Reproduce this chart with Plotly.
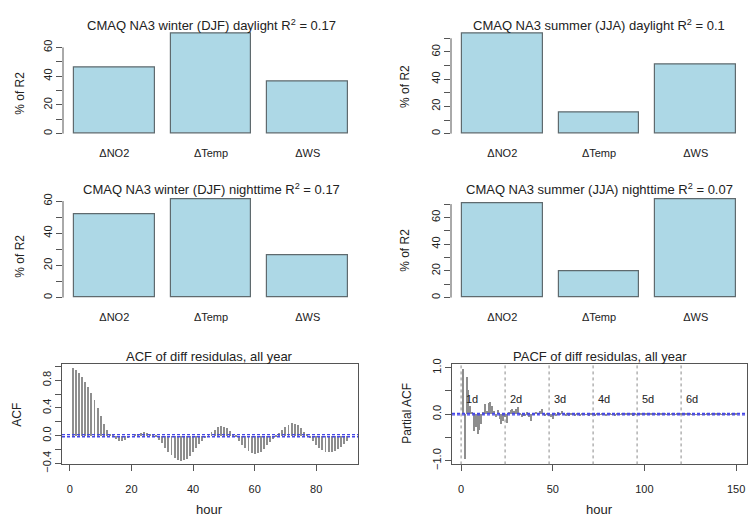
import plotly.graph_objects as go

W, H = 749, 529

# ---------------- data ----------------
categories = ["ΔNO2", "ΔTemp", "ΔWS"]
winter_day = [46.0, 69.8, 36.5]
summer_day = [73.6, 15.7, 50.7]
winter_night = [52.0, 61.2, 26.6]
summer_night = [70.5, 19.7, 73.7]
bar_titles = [
    "CMAQ NA3 winter (DJF) daylight R<sup>2</sup> = 0.17",
    "CMAQ NA3 summer (JJA) daylight R<sup>2</sup> = 0.1",
    "CMAQ NA3 winter (DJF) nighttime R<sup>2</sup> = 0.17",
    "CMAQ NA3 summer (JJA) nighttime R<sup>2</sup> = 0.07",
]
bar_tick_max = [60, 70, 60, 70]
bar_major_ticks = [0, 20, 40, 60]

acf_lags = list(range(1, 91))
acf_values = [
    0.98, 0.95, 0.91, 0.85, 0.78, 0.70, 0.61, 0.51, 0.40, 0.28,
    0.17, 0.09, 0.03, -0.02, -0.05, -0.08, -0.08, -0.06, -0.03, 0.00,
    0.02, 0.03, 0.04, 0.05, 0.04, 0.03, 0.01, -0.02, -0.06, -0.11,
    -0.17, -0.23, -0.28, -0.32, -0.35, -0.36, -0.35, -0.33, -0.29, -0.24,
    -0.18, -0.12, -0.07, -0.03, 0.01, 0.05, 0.09, 0.12, 0.14, 0.13,
    0.11, 0.07, 0.03, -0.02, -0.07, -0.13, -0.18, -0.22, -0.25, -0.26,
    -0.25, -0.23, -0.19, -0.14, -0.09, -0.05, -0.01, 0.04, 0.09, 0.13,
    0.16, 0.18, 0.17, 0.15, 0.11, 0.06, 0.02, -0.03, -0.08, -0.13,
    -0.17, -0.21, -0.23, -0.24, -0.24, -0.22, -0.19, -0.16, -0.12, -0.08,
]
acf_major_ticks = [-0.4, 0.0, 0.4, 0.8]
acf_minor_ticks = [-0.2, 0.2, 0.6, 1.0]

pacf_lags = list(range(1, 151))
pacf_values = [
    0.98, -0.97, 0.81, 0.52, 0.18, 0.05, -0.36, -0.28, -0.43, -0.33,
    -0.20, 0.04, 0.22, 0.06, 0.25, 0.26, 0.18, 0.08, -0.05, 0.10,
    -0.10, -0.20, -0.14, -0.05, -0.18, 0.05, 0.10, 0.12, 0.08, 0.12,
    0.15, 0.03, -0.05, -0.03, -0.02, 0.04, -0.05, -0.15, 0.03, 0.02,
    0.05, 0.03, 0.06, 0.12, 0.02, -0.02, 0.03, -0.02, -0.06, -0.10,
    0.02, -0.03, 0.04, 0.02, 0.07, 0.03, -0.02, 0.01, -0.04, 0.02,
    0.03, -0.02, 0.02, 0.01, -0.03, 0.02, 0.03, -0.01, 0.02, -0.02,
    0.01, 0.02, -0.03, 0.01, 0.02, -0.01, 0.03, 0.01, -0.02, 0.01,
    0.02, -0.01, 0.01, -0.02, 0.01, 0.02, -0.01, 0.01, -0.01, 0.02,
    -0.01, 0.01, 0.01, -0.02, 0.01, -0.01, 0.02, 0.01, -0.01, 0.01,
    0.01, -0.01, 0.01, 0.01, -0.01, 0.01, -0.01, 0.01, 0.01, -0.01,
    0.01, -0.01, 0.01, -0.01, 0.01, 0.01, -0.01, 0.01, -0.01, 0.01,
    -0.01, 0.01, 0.01, -0.01, 0.01, -0.01, 0.01, -0.01, 0.01, 0.01,
    -0.01, 0.01, -0.01, 0.01, 0.01, -0.01, 0.01, -0.01, 0.01, -0.01,
    0.01, -0.01, 0.01, 0.01, -0.01, 0.01, -0.01, 0.01, -0.01, 0.01,
]
pacf_major_ticks = [-1.0, 0.0, 1.0]
pacf_minor_ticks = [-0.5, 0.5]
conf_limit = 0.015
day_lines = [0, 24, 48, 72, 96, 120]
day_label_lags = [6, 30, 54, 78, 102, 126]
day_labels = ["1d", "2d", "3d", "4d", "5d", "6d"]
day_label_y = 0.33

# ---------------- styling / layout ----------------
FONT = "Liberation Sans, Arial, sans-serif"
TXT = "#222222"
AX = "#555555"
BAR_FILL = "#ADD8E6"
BAR_EDGE = "#5f6a6e"
SPIKE = "#8e8e8e"
BLUE = "#4646e6"


def xd(a, b):
    return [a / W, b / W]


def yd(top, bottom):
    return [1 - bottom / H, 1 - top / H]


# pixel boxes: (left, right, top, bottom)
boxes = [
    (63, 359, 25, 137),
    (451, 747, 25, 137),
    (63, 359, 195, 305),
    (451, 747, 195, 305),
    (62, 358, 368, 471),
    (452, 747, 368, 471),
]
title_y = [20, 20, 189, 189, 360, 360]
ytitle_pos = [(20, 91), (405, 84), (20, 258), (405, 252), (17, 420), (407, 419)]


def paper_text(text, px, py, size=12, angle=0):
    return dict(text=text, x=px / W, y=1 - py / H, xref="paper", yref="paper",
                showarrow=False, textangle=angle, font=dict(size=size, color=TXT),
                xanchor="center", yanchor="middle")


def minor(vals):
    return dict(tickvals=vals, ticks="outside", ticklen=6, tickcolor=AX, tickwidth=1)


fig = go.Figure()
layout = dict(
    width=W, height=H, margin=dict(l=0, r=0, t=0, b=0, pad=0),
    paper_bgcolor="white", plot_bgcolor="white",
    showlegend=False, font=dict(family=FONT, size=11, color=TXT),
)
annotations = []
shapes = []

bar_series = [winter_day, summer_day, winter_night, summer_night]
for i, vals in enumerate(bar_series):
    n = i + 1
    xa = "x" if n == 1 else f"x{n}"
    ya = "y" if n == 1 else f"y{n}"
    fig.add_trace(go.Bar(
        x=categories, y=vals, width=0.833, xaxis=xa, yaxis=ya,
        marker=dict(color=BAR_FILL, line=dict(color=BAR_EDGE, width=1.2)),
    ))
    L, R, T, B = boxes[i]
    M = max(vals)
    all_ticks = list(range(0, bar_tick_max[i] + 1, 10))
    layout[f"xaxis{'' if n == 1 else n}"] = dict(
        domain=xd(L, R), anchor=ya, type="category",
        range=[-0.53, 2.53], showline=False, showgrid=False, zeroline=False,
        ticks="", ticklabelstandoff=6, tickfont=dict(size=11, color=TXT),
    )
    layout[f"yaxis{'' if n == 1 else n}"] = dict(
        domain=yd(T, B), anchor=xa, range=[-0.05 * M, 1.04 * M],
        showline=False, showgrid=False, zeroline=False,
        ticks="outside", ticklen=6, tickcolor=AX, tickwidth=1,
        tickvals=bar_major_ticks,
        minor=minor([v for v in all_ticks if v not in bar_major_ticks]),
        tickangle=-90, tickfont=dict(size=11, color=TXT),
    )
    shapes.append(dict(
        type="line", xref=f"{xa} domain", yref=ya, x0=0, x1=0,
        y0=0, y1=bar_tick_max[i], line=dict(color=AX, width=1),
    ))
    annotations.append(paper_text(bar_titles[i], (L + R) / 2, title_y[i], size=13))
    annotations.append(paper_text("% of R2", ytitle_pos[i][0], ytitle_pos[i][1], angle=-90))

# ---------- ACF panel ----------
fig.add_trace(go.Bar(
    x=acf_lags, y=acf_values, width=0.3, xaxis="x5", yaxis="y5",
    marker=dict(color=SPIKE, line=dict(width=0)),
))
lo, hi = min(acf_values + [-conf_limit]), max(acf_values + [conf_limit])
pad = 0.04 * (hi - lo)
xpad = 0.04 * (max(acf_lags) - min(acf_lags))
L, R, T, B = boxes[4]
layout["xaxis5"] = dict(
    domain=xd(L, R), anchor="y5", range=[min(acf_lags) - xpad, max(acf_lags) + xpad],
    showline=True, mirror=True, linecolor=AX, linewidth=1, showgrid=False, zeroline=False,
    ticks="outside", ticklen=6, tickcolor=AX, tickvals=[0, 20, 40, 60, 80],
    ticklabelstandoff=8, tickfont=dict(size=11, color=TXT),
)
layout["yaxis5"] = dict(
    domain=yd(T, B), anchor="x5", range=[lo - pad, hi + pad],
    showline=True, mirror=True, linecolor=AX, linewidth=1, showgrid=False, zeroline=False,
    ticks="outside", ticklen=6, tickcolor=AX, tickvals=acf_major_ticks,
    tickformat=".1f", minor=minor(acf_minor_ticks),
    tickangle=-90, tickfont=dict(size=11, color=TXT),
)
for s in (1, -1):
    shapes.append(dict(type="line", xref="x5 domain", yref="y5", x0=0, x1=1,
                       y0=s * conf_limit, y1=s * conf_limit,
                       line=dict(color=BLUE, width=1.3, dash="3px,2px")))
annotations.append(paper_text("ACF of diff residulas, all year", (L + R) / 2, title_y[4], size=13))
annotations.append(paper_text("ACF", ytitle_pos[4][0], ytitle_pos[4][1], angle=-90))
annotations.append(paper_text("hour", (L + R) / 2, 517, size=13))

# ---------- PACF panel ----------
fig.add_trace(go.Bar(
    x=pacf_lags, y=pacf_values, width=0.5, xaxis="x6", yaxis="y6",
    marker=dict(color=SPIKE, line=dict(width=0)),
))
L, R, T, B = boxes[5]
xpad6 = 0.04 * (max(pacf_lags) - min(pacf_lags))
layout["xaxis6"] = dict(
    domain=xd(L, R), anchor="y6", range=[min(pacf_lags) - xpad6, max(pacf_lags) + xpad6],
    showline=True, mirror=True, linecolor=AX, linewidth=1, showgrid=False, zeroline=False,
    ticks="outside", ticklen=6, tickcolor=AX, tickvals=[0, 50, 100, 150],
    ticklabelstandoff=8, tickfont=dict(size=11, color=TXT),
)
layout["yaxis6"] = dict(
    domain=yd(T, B), anchor="x6", range=[-1.08, 1.08],
    showline=True, mirror=True, linecolor=AX, linewidth=1, showgrid=False, zeroline=False,
    ticks="outside", ticklen=6, tickcolor=AX, tickvals=pacf_major_ticks,
    tickformat=".1f", minor=minor(pacf_minor_ticks), tickangle=-90,
    tickfont=dict(size=11, color=TXT),
)
for d in day_lines:
    shapes.append(dict(type="line", xref="x6", yref="y6 domain", x0=d, x1=d, y0=0, y1=1,
                       line=dict(color="#8a8a8a", width=1, dash="dot")))
for s in (1, -1):
    shapes.append(dict(type="line", xref="x6 domain", yref="y6", x0=0, x1=1,
                       y0=s * conf_limit, y1=s * conf_limit,
                       line=dict(color=BLUE, width=1.3, dash="3px,2px")))
for xl, lab in zip(day_label_lags, day_labels):
    annotations.append(dict(text=lab, x=xl, y=day_label_y, xref="x6", yref="y6",
                            showarrow=False, font=dict(size=11, color=TXT),
                            xanchor="center", yanchor="middle"))
annotations.append(paper_text("PACF of diff residulas, all year", (L + R) / 2, title_y[5], size=13))
annotations.append(paper_text("Partial ACF", ytitle_pos[5][0], ytitle_pos[5][1], angle=-90))
annotations.append(paper_text("hour", (L + R) / 2, 517, size=13))

layout["annotations"] = annotations
layout["shapes"] = shapes
layout["bargap"] = 0
fig.update_layout(**layout)
fig.write_html(
    "out.html",
    config={"displayModeBar": False},
    post_script="document.body.style.margin='0';document.body.style.overflow='hidden';",
)
